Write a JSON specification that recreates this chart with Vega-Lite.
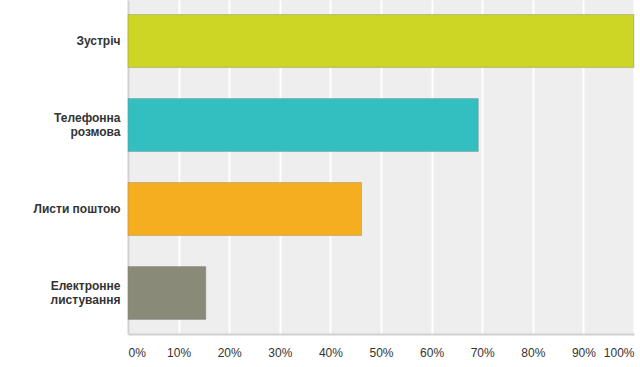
{
  "$schema": "https://vega.github.io/schema/vega-lite/v6.json",
  "width": 506,
  "height": 334,
  "autosize": {"type": "none"},
  "padding": {"left": 128, "top": 0, "right": 6, "bottom": 33},
  "background": "white",
  "config": {
    "view": {"fill": "#efeeef", "stroke": null},
    "font": "Liberation Sans"
  },
  "data": {
    "values": [
      {"option": "Зустріч", "share": 1.0, "color": "#cdd525"},
      {"option": "Телефонна|розмова", "share": 0.6923, "color": "#33bfc0"},
      {"option": "Листи поштою", "share": 0.4615, "color": "#f5ae1f"},
      {"option": "Електронне|листування", "share": 0.1538, "color": "#898a78"}
    ]
  },
  "mark": {"type": "bar", "strokeWidth": 1, "strokeOpacity": 0.35, "stroke": "#777"},
  "encoding": {
    "y": {
      "field": "option",
      "type": "nominal",
      "sort": null,
      "scale": {"paddingInner": 0.37, "paddingOuter": 0.173},
      "axis": {
        "title": null,
        "labelExpr": "split(datum.label, '|')",
        "labelFont": "Liberation Sans",
        "labelFontWeight": "bold",
        "labelFontSize": 12,
        "labelColor": "#333333",
        "labelPadding": 8,
        "labelLineHeight": 14,
        "labelOffset": {"condition": {"test": "indexof(datum.value, '|') >= 0", "value": -7}, "value": 0},
        "ticks": false,
        "domain": true,
        "domainColor": "#d0d0d0",
        "domainWidth": 2,
        "grid": false
      }
    },
    "x": {
      "field": "share",
      "type": "quantitative",
      "scale": {"domain": [0, 1], "nice": false},
      "axis": {
        "title": null,
        "format": ".0%",
        "values": [0, 0.1, 0.2, 0.3, 0.4, 0.5, 0.6, 0.7, 0.8, 0.9, 1.0],
        "labelFont": "Liberation Sans",
        "labelFontSize": 12,
        "labelColor": "#333333",
        "labelPadding": 13,
        "labelFlush": true,
        "ticks": false,
        "domain": true,
        "domainColor": "#d0d0d0",
        "domainWidth": 2,
        "grid": true,
        "gridColor": "#ffffff",
        "gridWidth": 2,
        "gridOpacity": 1
      }
    },
    "color": {"field": "color", "type": "nominal", "scale": null, "legend": null}
  }
}
